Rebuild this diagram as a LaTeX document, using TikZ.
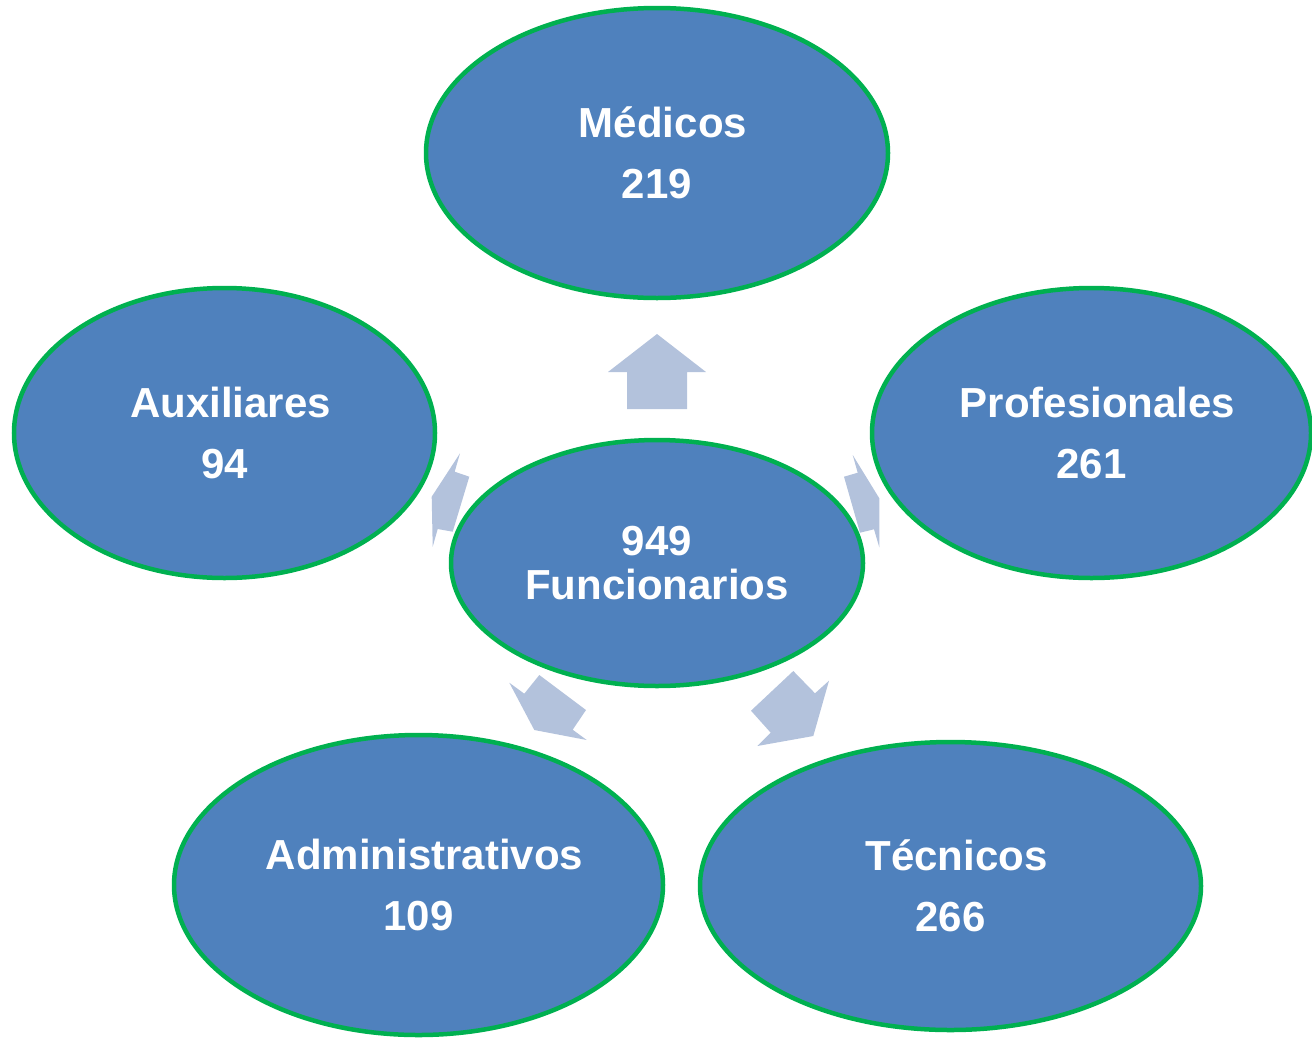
\documentclass[tikz,border=0pt]{standalone}
\usepackage{fontspec}
\setmainfont{Liberation Sans}
\usetikzlibrary{shapes.geometric}
\definecolor{relleno}{HTML}{4F81BD}
\definecolor{borde}{HTML}{00B050}
\definecolor{flechacolor}{HTML}{B3C2DC}
\newcommand{\corrido}{\hspace*{12pt}}

\begin{document}
\begin{tikzpicture}[x=1pt,y=-1pt,
    grupo/.style={ellipse,draw=borde,line width=4.5pt,fill=relleno,text=white,
      inner sep=0pt,align=center,font=\fontsize{42}{61}\selectfont\bfseries},
    flecha/.style={fill=flechacolor,draw=none}]
    \useasboundingbox (0,0) rectangle (1312,1037);
    % Arrows
    \fill[flecha] (657,334) -- (706,372) -- (687,372) -- (687,409)
      -- (627,409) -- (627,372) -- (608,372) -- cycle;
    \fill[flecha] (431.7,496.7) -- (460,453.3) -- (454.7,471.7) -- (469.3,476.7)
      -- (452.7,531.7) -- (437.7,529) -- (432.7,546.7) -- cycle;
    \fill[flecha] (879.3,498.3) -- (852.7,455) -- (857.7,472.7) -- (844,476.7)
      -- (860,532.7) -- (874,529.3) -- (879.3,547.3) -- cycle;
    \fill[flecha] (534.3,730) -- (509.3,682.7) -- (524.3,693.7) -- (539.3,675)
      -- (586,710) -- (572.7,729.7) -- (586.7,740) -- cycle;
    \fill[flecha] (813.3,736) -- (829,680.7) -- (815,693.3) -- (793.3,671)
      -- (751,710.7) -- (770.7,732.7) -- (757.3,746) -- cycle;
    % Place nodes
    \node[grupo,minimum width=462pt,minimum height=290pt] (medicos) at (657,153) {\corrido Médicos\\219};
    \node[grupo,minimum width=421pt,minimum height=290pt] (auxiliares) at (224.5,433) {\corrido Auxiliares\\94};
    \node[grupo,minimum width=439pt,minimum height=290pt] (profesionales) at (1091.5,433) {\corrido Profesionales\\261};
    \node[grupo,minimum width=489pt,minimum height=300pt] (administrativos) at (418.5,885) {\corrido Administrativos\\109};
    \node[grupo,minimum width=501pt,minimum height=288pt] (tecnicos) at (950.5,886) {\corrido Técnicos\\266};
    \node[grupo,minimum width=412pt,minimum height=246pt,
      font=\fontsize{42}{44}\selectfont\bfseries] (funcionarios) at (657,563) {949\\Funcionarios};
\end{tikzpicture}
\end{document}
